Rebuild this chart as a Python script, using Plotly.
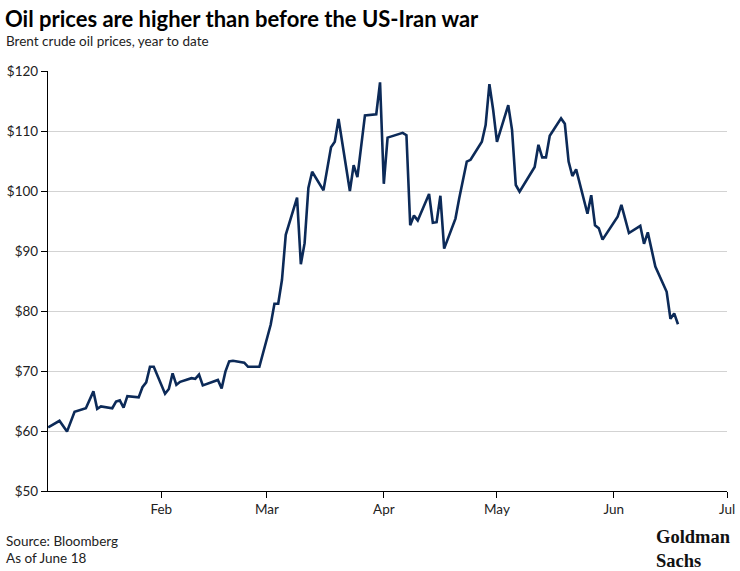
import plotly.graph_objects as go

dates = [
    "2026-01-02", "2026-01-05", "2026-01-07", "2026-01-09", "2026-01-12", "2026-01-14",
    "2026-01-15", "2026-01-16", "2026-01-19", "2026-01-20", "2026-01-21", "2026-01-22",
    "2026-01-23", "2026-01-26", "2026-01-27", "2026-01-28", "2026-01-29", "2026-01-30",
    "2026-02-02", "2026-02-03", "2026-02-04", "2026-02-05", "2026-02-06", "2026-02-09",
    "2026-02-10", "2026-02-11", "2026-02-12", "2026-02-16", "2026-02-17", "2026-02-18",
    "2026-02-19", "2026-02-20", "2026-02-23", "2026-02-24", "2026-02-26", "2026-02-27",
    "2026-03-02", "2026-03-03", "2026-03-04", "2026-03-05", "2026-03-06", "2026-03-09",
    "2026-03-10", "2026-03-11", "2026-03-12", "2026-03-13", "2026-03-16", "2026-03-18",
    "2026-03-19", "2026-03-20", "2026-03-23", "2026-03-24", "2026-03-25", "2026-03-27",
    "2026-03-30", "2026-03-31", "2026-04-01", "2026-04-02", "2026-04-06", "2026-04-07",
    "2026-04-08", "2026-04-09", "2026-04-10", "2026-04-13", "2026-04-14", "2026-04-15",
    "2026-04-16", "2026-04-17", "2026-04-20", "2026-04-21", "2026-04-23", "2026-04-24",
    "2026-04-27", "2026-04-28", "2026-04-29", "2026-04-30", "2026-05-01", "2026-05-04",
    "2026-05-05", "2026-05-06", "2026-05-07", "2026-05-11", "2026-05-12", "2026-05-13",
    "2026-05-14", "2026-05-15", "2026-05-18", "2026-05-19", "2026-05-20", "2026-05-21",
    "2026-05-22", "2026-05-25", "2026-05-26", "2026-05-27", "2026-05-28", "2026-05-29",
    "2026-06-02", "2026-06-03", "2026-06-05", "2026-06-08", "2026-06-09", "2026-06-10",
    "2026-06-12", "2026-06-15", "2026-06-16", "2026-06-17", "2026-06-18",
]
prices = [
    60.6, 61.7, 59.9, 63.2, 63.8, 66.6,
    63.7, 64.1, 63.8, 64.9, 65.1, 63.9,
    65.8, 65.6, 67.3, 68.1, 70.7, 70.7,
    66.2, 67.0, 69.6, 67.7, 68.2, 68.8,
    68.7, 69.4, 67.6, 68.5, 67.1, 69.9,
    71.6, 71.7, 71.4, 70.7, 70.7, 70.7,
    77.7, 81.2, 81.2, 85.2, 92.7, 98.9,
    87.8, 91.3, 100.5, 103.2, 100.1, 107.3,
    108.2, 112.0, 100.0, 104.3, 102.3, 112.6,
    112.8, 118.1, 101.2, 108.9, 109.7, 109.3,
    94.3, 95.9, 95.1, 99.5, 94.7, 94.8,
    99.2, 90.4, 95.4, 98.8, 104.9, 105.2,
    108.2, 111.0, 117.8, 113.5, 108.2, 114.3,
    110.2, 101.0, 99.9, 104.0, 107.7, 105.6,
    105.6, 109.2, 112.1, 111.2, 104.9, 102.5,
    103.6, 96.2, 99.3, 94.3, 93.8, 91.9,
    95.7, 97.7, 93.0, 94.2, 91.2, 93.1,
    87.4, 83.2, 78.7, 79.6, 77.8,
]

x_tickvals = ["2026-02-01", "2026-03-01", "2026-04-01", "2026-05-01", "2026-06-01", "2026-07-01"]
x_ticktext = ["Feb", "Mar", "Apr", "May", "Jun", "Jul"]
y_tickvals = [50, 60, 70, 80, 90, 100, 110, 120]
y_ticktext = ["$" + str(v) for v in y_tickvals]

title = "Oil prices are higher than before the US-Iran war"
subtitle = "Brent crude oil prices, year to date"
source_lines = ["Source: Bloomberg", "As of June 18"]
logo_lines = ["Goldman", "Sachs"]

FONT = "Lato"
LOGO_FONT = "Liberation Serif"

W, H = 740, 571
L, R, T, B = 48, 13, 71, 80
ph = H - T - B
pw = W - L - R


def ypaper(ypix):
    return (H - B - ypix) / ph


def xpaper(xpix):
    return (xpix - L) / pw


fig = go.Figure()
fig.add_trace(go.Scatter(
    x=dates, y=prices, mode="lines",
    line=dict(color="#0c2a58", width=2.6),
    hoverinfo="skip", showlegend=False,
))

annotations = [
    dict(text="<b>" + title + "</b>", x=xpaper(4), y=ypaper(18),
         font=dict(family=FONT, size=22, color="black")),
    dict(text=subtitle, x=xpaper(5), y=ypaper(41),
         font=dict(family=FONT, size=13.5, color="#222222")),
    dict(text=source_lines[0], x=xpaper(5), y=ypaper(541),
         font=dict(family=FONT, size=13.5, color="#222222")),
    dict(text=source_lines[1], x=xpaper(5), y=ypaper(558),
         font=dict(family=FONT, size=13.5, color="#222222")),
    dict(text="<b>" + "<br>".join(logo_lines) + "</b>", x=xpaper(655), y=ypaper(549),
         font=dict(family=LOGO_FONT, size=18.5, color="#111111")),
]
for a in annotations:
    a.update(xref="paper", yref="paper", xanchor="left", yanchor="middle",
             showarrow=False, align="left", borderpad=0)

fig.update_layout(
    width=W, height=H,
    margin=dict(l=L, r=R, t=T, b=B),
    paper_bgcolor="white", plot_bgcolor="white",
    font=dict(family=FONT, size=13, color="#222222"),
    xaxis=dict(
        type="date", automargin=False,
        range=["2026-01-01 23:00", "2026-07-01"],
        tickvals=x_tickvals, ticktext=x_ticktext,
        showgrid=False, zeroline=False,
        showline=True, linecolor="black", linewidth=1.3,
        ticks="outside", ticklen=6, tickcolor="black", tickwidth=1,
        tickfont=dict(family=FONT, size=13.5, color="#222222"),
    ),
    yaxis=dict(
        automargin=False,
        range=[50, 120],
        tickvals=y_tickvals, ticktext=y_ticktext,
        showgrid=True, gridcolor="#d3d3d3", gridwidth=1,
        zeroline=False,
        showline=True, linecolor="black", linewidth=1.3,
        ticks="outside", ticklen=6, tickcolor="black", tickwidth=1,
        tickfont=dict(family=FONT, size=13.5, color="#222222"),
    ),
    annotations=annotations,
)

fig.write_html("out.html")
